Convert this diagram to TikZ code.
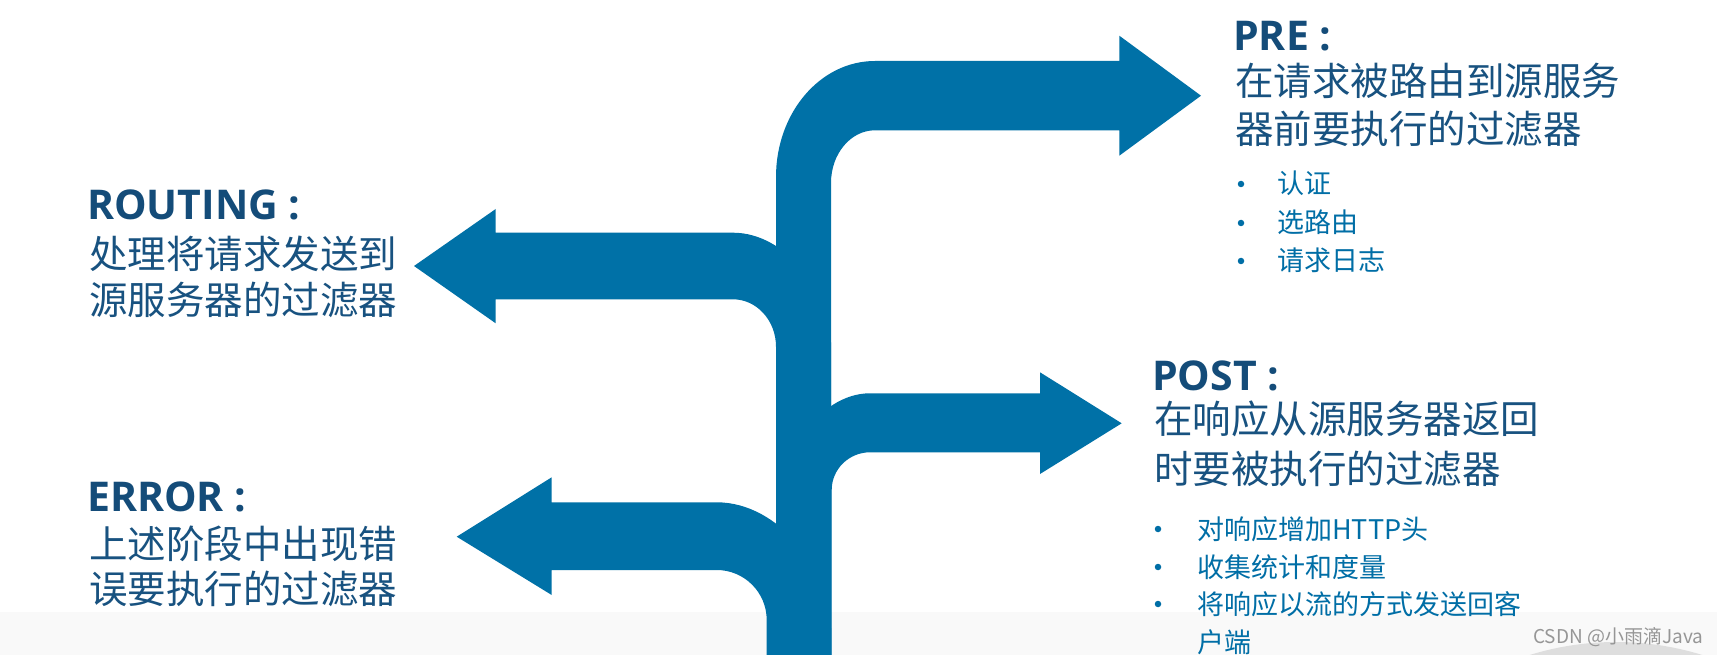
\documentclass[tikz,border=0pt]{standalone}
\usepackage{fontspec}
\setmainfont{Noto Sans CJK SC}
\newfontfamily\titlefont{Open Sans}
\definecolor{arrowcol}{RGB}{0,113,167}
\definecolor{titlecol}{RGB}{20,76,121}
\definecolor{bodycol}{RGB}{24,82,128}
\definecolor{itemcol}{RGB}{0,110,166}
\definecolor{bandgray}{RGB}{249,249,249}
\definecolor{discgray}{RGB}{222,222,222}
\definecolor{markgray}{RGB}{150,150,150}
\tikzset{
  titletext/.style={anchor=base west, inner sep=0pt, font=\titlefont\fontsize{41}{48}\selectfont\bfseries, text=titlecol},
  bodytext/.style={anchor=base west, inner sep=0pt, font=\fontsize{38.5}{46}\selectfont, text=bodycol},
  itemtext/.style={anchor=base west, inner sep=0pt, font=\fontsize{27}{32}\selectfont, text=itemcol},
  dotmark/.style={circle, fill=itemcol, inner sep=0pt, minimum size=6.5pt},
  shapefill/.style={fill=arrowcol}
}
\newcommand{\tcolon}{\hspace{0.26em}:}
\begin{document}
\begin{tikzpicture}[x=1pt,y=-1pt]
\useasboundingbox (0,0) rectangle (1717,655);
\fill[white] (0,0) rectangle (1717,655);
\fill[bandgray] (0,612) rectangle (1717,655);
\begin{scope}
  \clip (0,0) rectangle (1717,655);
  \fill[discgray] (1616,933) circle[radius=291];
\end{scope}

% PRE arrow
\fill[shapefill] (776,655) -- (776,177) .. controls (776,113) and (820,61) .. (875,61)
  -- (1119.3,61) -- (1119.3,35.7) -- (1201,95.7) -- (1119.3,155.7) -- (1119.3,130.3)
  -- (875,130.3) .. controls (850.5,130.3) and (831,154) .. (831,183) -- (831,655) -- cycle;
% ROUTING arrow
\fill[shapefill] (414,266) -- (495.7,209) -- (495.7,232.7) -- (733,232.7)
  .. controls (786.5,232.7) and (831,293.4) .. (831,342.7) -- (831,655) -- (776,655)
  -- (776,346.7) .. controls (776,320.5) and (756.7,299.3) .. (733,299.3)
  -- (495.7,299.3) -- (495.7,323.3) -- cycle;
% POST arrow
\fill[shapefill] (1121.7,423.3) -- (1040,372.3) -- (1040,393.3) -- (870,393.3)
  .. controls (818.1,393.3) and (776,459.5) .. (776,513.3) -- (776,655) -- (831.7,655)
  -- (831.7,490) .. controls (831.7,469.2) and (848.9,452.3) .. (870,452.3)
  -- (1040,452.3) -- (1040,474) -- cycle;
% ERROR arrow
\fill[shapefill] (456.7,536.7) -- (551.7,477.3) -- (551.7,502.3) -- (716.7,502.3)
  .. controls (779.8,502.3) and (831,571.9) .. (831,628.3) -- (831,655) -- (766.7,655)
  -- (766.7,620) .. controls (766.7,592.4) and (744.3,570) .. (716.7,570)
  -- (551.7,570) -- (551.7,595) -- cycle;

% PRE text
\node[titletext] (pretitle) at (1233,51) {PRE\tcolon};
\node[bodytext] (prel1) at (1235,96) {在请求被路由到源服务};
\node[bodytext] (prel2) at (1235,144) {器前要执行的过滤器};
\node[dotmark] (pred1) at (1241,184) {};
\node[dotmark] (pred2) at (1241,223) {};
\node[dotmark] (pred3) at (1241,261) {};
\node[itemtext] (prei1) at (1277,194) {认证};
\node[itemtext] (prei2) at (1277,233) {选路由};
\node[itemtext] (prei3) at (1277,271) {请求日志};

% ROUTING text
\node[titletext] (routetitle) at (87,220) {ROUTING\tcolon};
\node[bodytext] (routel1) at (89,268.5) {处理将请求发送到};
\node[bodytext] (routel2) at (89,315) {源服务器的过滤器};

% ERROR text
\node[titletext] (errtitle) at (87,511) {ERROR\tcolon};
\node[bodytext] (errl1) at (89,558) {上述阶段中出现错};
\node[bodytext] (errl2) at (89,603) {误要执行的过滤器};

% POST text
\node[titletext] (posttitle) at (1152,390) {POST\tcolon};
\node[bodytext] (postl1) at (1154,433.5) {在响应从源服务器返回};
\node[bodytext] (postl2) at (1154,483) {时要被执行的过滤器};
\node[dotmark] (postd1) at (1158,529) {};
\node[dotmark] (postd2) at (1158,567) {};
\node[dotmark] (postd3) at (1158,604) {};
\node[itemtext] (posti1) at (1197,539) {对响应增加HTTP头};
\node[itemtext] (posti2) at (1197,577) {收集统计和度量};
\node[itemtext] (posti3) at (1197,614) {将响应以流的方式发送回客};
\node[itemtext] (posti4) at (1197,652) {户端};

% watermark
\node[anchor=base west, inner sep=0pt, font=\fontsize{19}{23}\selectfont, text=markgray] (mark) at (1533,643) {CSDN @小雨滴Java};
\end{tikzpicture}
\end{document}
